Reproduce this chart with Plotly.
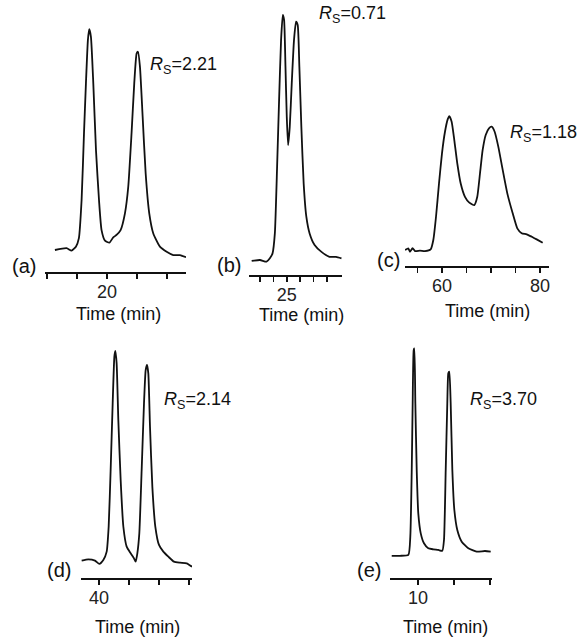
import plotly.graph_objects as go

# ---------------- data (time in min, relative intensity) ----------------
t_a = [16.53, 17.31, 17.64, 17.93, 18.13, 18.31, 18.47, 18.6, 18.73, 18.82, 18.93, 19.09, 19.27, 19.47,
       19.64, 19.87, 20.16, 20.42, 20.64, 20.91, 21.2, 21.42, 21.64, 21.82, 21.98, 22.07, 22.2, 22.38,
       22.58, 22.82, 23.09, 23.53, 23.98, 24.42, 24.87, 25.27]
i_a = [0, 0.8, -0.3, 1.5, 5.4, 22.6, 52.9, 75.6, 95, 99.9, 96.6, 75.4, 45, 22.6,
       9, 4.2, 3.3, 5.7, 6.8, 9, 16.6, 28.6, 52.8, 75.4, 89, 89.7, 83, 60.3,
       34.7, 16.6, 7.5, 1.5, -0.8, -2.3, -2.3, -3.3]

t_b = [18.46, 20.0, 21.23, 21.85, 22.35, 22.78, 23.2, 23.57, 23.94, 24.26, 24.5, 24.76, 25.0, 25.25,
       25.56, 25.93, 26.35, 26.73, 27.04, 27.35, 27.72, 28.15, 28.65, 29.26, 30.19, 31.42, 32.96,
       34.2, 35.2]
i_b = [-0.4, 0, -0.7, 0.7, 2.7, 10.8, 37.9, 65, 89.4, 99.6, 97.6, 78.6, 58.3, 46.7,
       54.2, 71.8, 89.4, 96.9, 95.5, 78.6, 54.2, 31.2, 17.6, 10.8, 6.1, 3.4, 1.3,
       1.3, 0.7]

t_c = [52.45, 53.12, 53.47, 54.0, 54.49, 55.51, 56.53, 57.69, 58.23, 58.78, 59.39, 60.0, 60.61, 61.16,
       61.49, 61.97, 62.51, 63.12, 63.82, 64.69, 65.58, 66.6, 67.2, 67.76, 68.3, 68.92, 69.59, 70.14,
       70.75, 71.49, 72.39, 73.33, 74.43, 75.37, 76.26, 77.29, 78.31, 79.33, 80.55]
i_c = [0, 1.3, -1.3, 1.3, -0.8, -0.5, -0.8, 0.5, 7.5, 25, 50, 72.7, 88.9, 98.2,
       100.7, 96.5, 82.7, 65.2, 50, 40, 35.6, 33.8, 40, 57.7, 75.2, 86.5, 91.5, 92.7,
       88.9, 77.7, 60.2, 42.6, 27.6, 16.3, 12.6, 11.8, 10, 8, 5.5]

t_d = [37.11, 38.22, 39.33, 40.06, 40.72, 41.28, 41.61, 41.94, 42.28, 42.56, 42.72, 42.94, 43.22, 43.61,
       44.06, 44.61, 45.28, 45.83, 46.11, 46.39, 46.72, 47.11, 47.5, 47.78, 48.0, 48.22, 48.5, 48.89,
       49.39, 50.0, 50.72, 51.56, 52.5, 53.5, 54.61, 55.5]
i_d = [-0.3, 0.3, -0.3, -1.9, 0, 4, 15.9, 43.1, 75, 97.3, 100.1, 94.1, 67, 38.3,
       15.9, 6.4, 3.2, 0.8, -0.8, 3.2, 12.8, 43.1, 75, 90.9, 93.3, 89.3, 63.8, 35.1,
       15.9, 7.2, 4, 1.6, -0.8, -1.3, -1.6, -3.2]

t_e = [6.35, 7.5, 8.66, 8.93, 9.13, 9.26, 9.4, 9.49, 9.63, 9.82, 10.04, 10.38, 10.83, 11.43,
       12.13, 12.82, 13.38, 13.61, 13.85, 14.07, 14.21, 14.35, 14.54, 14.77, 15.05, 15.46, 16.07,
       16.99, 18.15, 19.31, 20.1]
i_e = [0.1, 0.1, 0.5, 9.3, 41.3, 73.4, 99, 99.8, 73.4, 41.3, 20.5, 10.9, 6.1, 3.7,
       3.2, 2.9, 2.5, 7.7, 41.3, 73.4, 87.8, 88.6, 73.4, 41.3, 22.1, 12.5, 6.9,
       3.7, 2.1, 2.4, 2.1]

panel_names = ["(a)", "(b)", "(c)", "(d)", "(e)"]
rs_values = ["2.21", "0.71", "1.18", "2.14", "3.70"]
tick_vals = [[16, 18, 20, 22, 24], [20, 22.5, 25, 27.5, 30, 32.5], [55, 60, 65, 70, 75, 80],
             [40, 45, 50, 55], [10, 15, 20]]
tick_text = [["", "", "20", "", ""], ["", "", "25", "", "", ""], ["", "60", "", "", "", "80"],
             ["40", "", "", ""], ["10", "", ""]]
x_title = "Time (min)"

series = [(t_a, i_a), (t_b, i_b), (t_c, i_c), (t_d, i_d), (t_e, i_e)]

# ---------------- layout (pixel geometry) ----------------
W, H = 579, 638
FONT = "Liberation Sans, Arial, sans-serif"
INK = "#111111"

# left px, right px, t at left, t at right, axis-line py, baseline py, 100% py, top py
geom = [
    (45, 186, 15.87, 25.27, 272, 250, 29, 4),
    (249, 342, 17.96, 35.30, 275, 260, 14, 4),
    (405, 549, 52.45, 81.84, 266, 250, 117, 4),
    (81, 192, 37.0, 55.5, 578, 560, 351, 335),
    (390, 492, 6.11, 20.28, 578, 556, 348, 335),
]
# label positions (px)
name_pos = [(38, 266), (243, 265), (402, 260), (73, 570), (383, 570)]
rs_pos = [(148, 65), (317, 15), (508, 133), (162, 400), (468, 400)]
title_pos = [(118, 314), (301, 315), (487, 311), (137, 627), (445, 627)]

fig = go.Figure()
layout = dict(
    width=W, height=H,
    margin=dict(l=0, r=0, t=0, b=0),
    paper_bgcolor="white", plot_bgcolor="rgba(0,0,0,0)",
    showlegend=False,
    font=dict(family=FONT, color=INK),
)
annotations = []

for k, ((tt, ii), g) in enumerate(zip(series, geom)):
    L, R, t0, t1, axis_py, base_py, peak_py, top_py = g
    s = (base_py - peak_py) / 100.0
    i_bot = -(axis_py - base_py) / s
    i_top = (base_py - top_py) / s
    xa = "xaxis" if k == 0 else f"xaxis{k+1}"
    ya = "yaxis" if k == 0 else f"yaxis{k+1}"
    xr = "x" if k == 0 else f"x{k+1}"
    yr = "y" if k == 0 else f"y{k+1}"
    fig.add_trace(go.Scatter(x=tt, y=ii, mode="lines", xaxis=xr, yaxis=yr,
                             line=dict(color=INK, width=1.8, shape="spline", smoothing=0.5),
                             hoverinfo="skip"))
    layout[xa] = dict(
        domain=[L / W, R / W], range=[t0, t1], anchor=yr,
        showline=True, linecolor=INK, linewidth=2.2, mirror=False,
        ticks="outside", ticklen=5, tickwidth=1.6, tickcolor=INK,
        tickvals=tick_vals[k], ticktext=tick_text[k],
        tickfont=dict(size=18, color="#222222", family=FONT),
        ticklabelstandoff=-3,
        showgrid=False, zeroline=False, fixedrange=True,
    )
    layout[ya] = dict(
        domain=[1 - axis_py / H, 1 - top_py / H], range=[i_bot, i_top], anchor=xr,
        visible=False, showgrid=False, zeroline=False, fixedrange=True,
    )
    nx, ny = name_pos[k]
    annotations.append(dict(text=panel_names[k], x=nx / W, y=1 - ny / H, xref="paper", yref="paper",
                            xanchor="right", yanchor="middle", showarrow=False,
                            font=dict(size=20, color=INK, family=FONT)))
    rx, ry = rs_pos[k]
    annotations.append(dict(text=f"<i>R</i><sub>S</sub>={rs_values[k]}", x=rx / W, y=1 - ry / H,
                            xref="paper", yref="paper", xanchor="left", yanchor="middle",
                            showarrow=False, font=dict(size=18, color=INK, family=FONT)))
    tx, ty = title_pos[k]
    annotations.append(dict(text=x_title, x=tx / W, y=1 - ty / H, xref="paper", yref="paper",
                            xanchor="center", yanchor="middle", showarrow=False,
                            font=dict(size=18, color=INK, family=FONT)))

layout["annotations"] = annotations
fig.update_layout(**layout)
fig.write_html("out.html", config={"displayModeBar": False, "staticPlot": True},
               post_script="document.body.style.margin='0px';")
